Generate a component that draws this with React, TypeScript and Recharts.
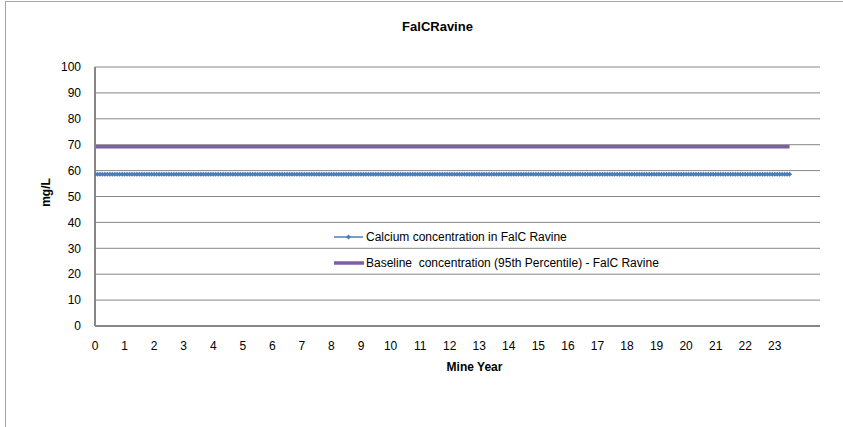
import { LineChart, Line, XAxis, YAxis, CartesianGrid } from 'recharts'

// mine years shown on the category axis
const mineYears = [0, 1, 2, 3, 4, 5, 6, 7, 8, 9, 10, 11, 12, 13, 14, 15, 16, 17, 18, 19, 20, 21, 22, 23]

// yearly readings (mg/L), the calcium series is monthly so each year is repeated per month
const calciumByYear = [
  58.6, 58.6, 58.6, 58.6, 58.6, 58.6, 58.6, 58.6, 58.6, 58.6, 58.6, 58.6,
  58.6, 58.6, 58.6, 58.6, 58.6, 58.6, 58.6, 58.6, 58.6, 58.6, 58.6, 58.6
]
const baselineByYear = [
  69.2, 69.2, 69.2, 69.2, 69.2, 69.2, 69.2, 69.2, 69.2, 69.2, 69.2, 69.2,
  69.2, 69.2, 69.2, 69.2, 69.2, 69.2, 69.2, 69.2, 69.2, 69.2, 69.2, 69.2
]
const monthsInYear = [12, 12, 12, 12, 12, 12, 12, 12, 12, 12, 12, 12,
  12, 12, 12, 12, 12, 12, 12, 12, 12, 12, 12, 7]

const yTicks = [0, 10, 20, 30, 40, 50, 60, 70, 80, 90, 100]

const seriesNames = [
  'Calcium concentration in FalC Ravine',
  'Baseline  concentration (95th Percentile) - FalC Ravine'
]

const data: { t: number; calcium: number; baseline: number }[] = []
mineYears.forEach((y, i) => {
  for (let m = 0; m < monthsInYear[i]; m++) {
    data.push({ t: y + m / 12, calcium: calciumByYear[i], baseline: baselineByYear[i] })
  }
})

const FONT = '"Liberation Sans", Arial, sans-serif'
const BLUE = '#4a7ebb'
const PURPLE = '#7d5fa3'

const Diamond = (props: any) => {
  const { cx, cy } = props
  if (cx == null || cy == null) return null
  const r = 2.6
  return (
    <polygon
      points={`${cx},${cy - r} ${cx + r},${cy} ${cx},${cy + r} ${cx - r},${cy}`}
      fill={BLUE}
      stroke="none"
    />
  )
}

const LegendBox = () => (
  <div style={{ position: 'absolute', left: 333, top: 224, fontFamily: FONT, fontSize: 12, color: '#000', whiteSpace: 'pre' }}>
    <div style={{ display: 'flex', alignItems: 'center', height: 26 }}>
      <svg width={33} height={10}>
        <line x1={1} y1={5} x2={30} y2={5} stroke={BLUE} strokeWidth={1.5} />
        <polygon points="15.5,2.4 18.1,5 15.5,7.6 12.9,5" fill={BLUE} />
      </svg>
      <span>{seriesNames[0]}</span>
    </div>
    <div style={{ display: 'flex', alignItems: 'center', height: 26 }}>
      <svg width={33} height={10}>
        <line x1={1} y1={5} x2={31} y2={5} stroke={PURPLE} strokeWidth={3.5} />
      </svg>
      <span>{seriesNames[1]}</span>
    </div>
  </div>
)

export default function App() {
  return (
    <div style={{ position: 'absolute', left: 0, top: 0, width: 843, height: 427, background: '#fff' }}>
      <div style={{ position: 'absolute', left: 5, top: 1, width: 838, height: 426, borderLeft: '1px solid #a6a6a6', borderTop: '1px solid #a6a6a6' }} />
      <div style={{ position: 'absolute', left: 0, width: 843, top: 19, textAlign: 'center', fontFamily: FONT, fontWeight: 'bold', fontSize: 13, paddingLeft: 32, boxSizing: 'border-box' }}>
        FalCRavine
      </div>
      <LineChart
        width={843}
        height={427}
        data={data}
        margin={{ top: 67, right: 23, left: 0, bottom: 0 }}
        style={{ position: 'absolute', left: 0, top: 0 }}
      >
        <CartesianGrid vertical={false} stroke="#868686" strokeWidth={1} />
        <XAxis
          dataKey="t"
          type="number"
          domain={[0, 24.53]}
          ticks={mineYears}
          interval={0}
          allowDataOverflow
          height={101}
          tickLine={false}
          tickSize={0}
          tickMargin={15}
          axisLine={{ stroke: '#868686', strokeWidth: 2 }}
          tick={{ fill: '#000', fontFamily: FONT, fontSize: 12 }}
          label={{ value: 'Mine Year', position: 'insideTop', offset: 36, dx: 17, style: { fontFamily: FONT, fontWeight: 'bold', fontSize: 12, fill: '#000' } }}
        />
        <YAxis
          type="number"
          domain={[0, 100]}
          ticks={yTicks}
          width={95}
          tickLine={false}
          tickSize={0}
          tickMargin={14}
          axisLine={{ stroke: '#868686', strokeWidth: 2 }}
          tick={{ fill: '#000', fontFamily: FONT, fontSize: 12 }}
          label={{ value: 'mg/L', angle: -90, position: 'insideLeft', offset: 46, dy: -4, style: { fontFamily: FONT, fontWeight: 'bold', fontSize: 12, fill: '#000', textAnchor: 'middle' } }}
        />
        <Line
          dataKey="baseline"
          stroke={PURPLE}
          strokeWidth={3.5}
          dot={false}
          isAnimationActive={false}
        />
        <Line
          dataKey="calcium"
          stroke={BLUE}
          strokeWidth={1.5}
          dot={<Diamond />}
          isAnimationActive={false}
        />
      </LineChart>
      <LegendBox />
    </div>
  )
}
